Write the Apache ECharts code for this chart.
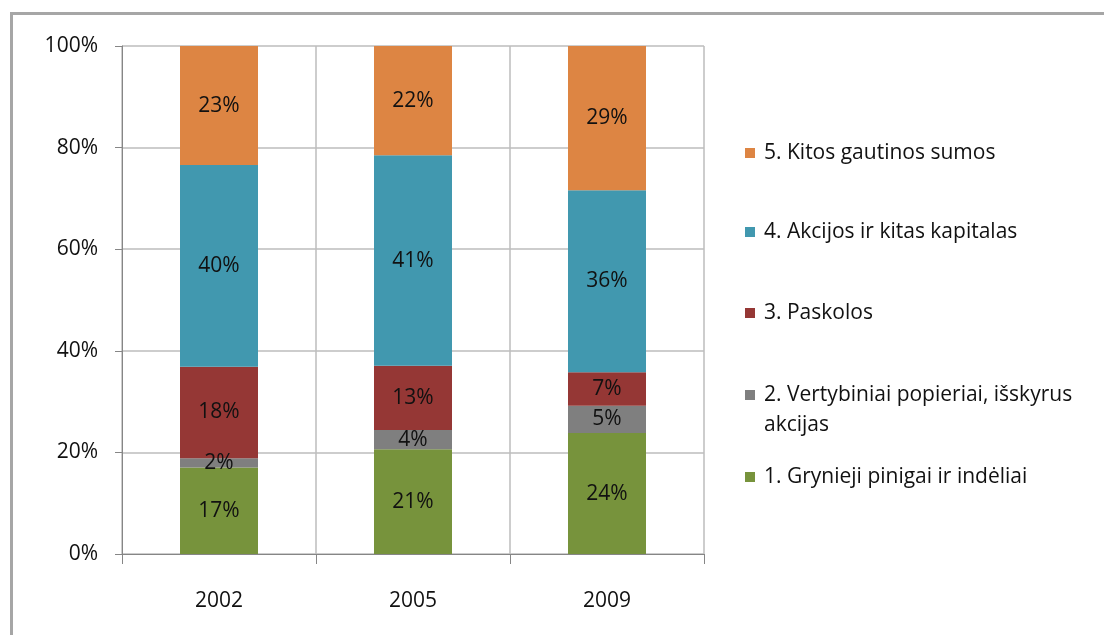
<!DOCTYPE html>
<html>
<head>
<meta charset="utf-8">
<script src="https://cdn.jsdelivr.net/npm/echarts@6/dist/echarts.min.js"></script>
<style>
  html, body { margin: 0; padding: 0; background: #fff; }
  #chart { width: 1104px; height: 635px; }
</style>
</head>
<body>
<div id="chart"></div>
<script>
const years = ["2002", "2005", "2009"];
// raw shares (percent)
const grynieji = [17.0, 20.6, 23.9];
const vertybiniai = [1.8, 3.8, 5.4];
const paskolos = [18.0, 12.6, 6.6];
const akcijos = [39.6, 41.4, 36.0];
const kitos = [23.4, 21.5, 28.5];
const yTicks = [0, 20, 40, 60, 80, 100];

const names = [
  "1. Grynieji pinigai ir indėliai",
  "2. Vertybiniai popieriai, išskyrus",
  "3. Paskolos",
  "4. Akcijos ir kitas kapitalas",
  "5. Kitos gautinos sumos",
];
const colors = ["#77933c", "#7f7f7f", "#953735", "#4198af", "#dd8543"];
const raw = [grynieji, vertybiniai, paskolos, akcijos, kitos];

// 100% stacked: normalise each year to its total
const totals = years.map((y, j) => raw.reduce((s, arr) => s + arr[j], 0));

const font = "'Open Sans', sans-serif";
const fs = 21;

const series = raw.map((arr, i) => ({
  name: names[i],
  type: "bar",
  stack: "all",
  barWidth: 78,
  itemStyle: { color: colors[i] },
  data: arr.map((v, j) => (v / totals[j]) * 100),
  label: {
    show: true,
    position: "inside",
    color: "#111",
    fontFamily: font,
    fontSize: fs,
    formatter: (p) => Math.round(arr[p.dataIndex]) + "%",
  },
}));

// legend rows, top to bottom (centres 477, 395, 313, 232, 153)
const legendTops = [465, 383, 301, 220, 141];
const legend = names.map((n, i) => ({
  data: [n],
  left: 745,
  top: legendTops[i],
  padding: 0,
  icon: "rect",
  itemWidth: 10,
  itemHeight: 10,
  itemGap: 0,
  selectedMode: false,
  textStyle: { fontFamily: font, fontSize: fs, lineHeight: 24, color: "#111", padding: [0, 0, 0, 4] },
}));

const chart = echarts.init(document.getElementById("chart"));
chart.setOption({
  animation: false,
  backgroundColor: "#fff",
  grid: { left: 122, top: 46, width: 582, height: 508 },
  legend,
  xAxis: {
    type: "category",
    data: years,
    axisLine: { lineStyle: { color: "#868686", width: 1 } },
    axisTick: { show: true, length: 10, lineStyle: { color: "#868686" } },
    axisLabel: { margin: 37, color: "#111", fontFamily: font, fontSize: fs },
    splitLine: { show: true, lineStyle: { color: "#bcbcbc", width: 1.5 } },
  },
  yAxis: {
    type: "value",
    min: yTicks[0],
    max: yTicks[yTicks.length - 1],
    interval: yTicks[1] - yTicks[0],
    axisLine: { show: true, lineStyle: { color: "#868686", width: 1 } },
    axisTick: { show: true, length: 7, lineStyle: { color: "#868686" } },
    axisLabel: { margin: 24, color: "#111", fontFamily: font, fontSize: fs, formatter: "{value}%" },
    splitLine: { show: true, lineStyle: { color: "#bcbcbc", width: 1.5 } },
  },
  graphic: [
    {
      type: "rect",
      shape: { x: 11.5, y: 13.5, width: 1200, height: 700 },
      style: { fill: "none", stroke: "#a6a6a6", lineWidth: 3 },
      silent: true,
    },
    {
      type: "text",
      left: 764,
      top: 415,
      style: { text: "akcijas", font: fs + "px " + font, fill: "#111" },
    },
  ],
  series,
});
</script>
</body>
</html>
